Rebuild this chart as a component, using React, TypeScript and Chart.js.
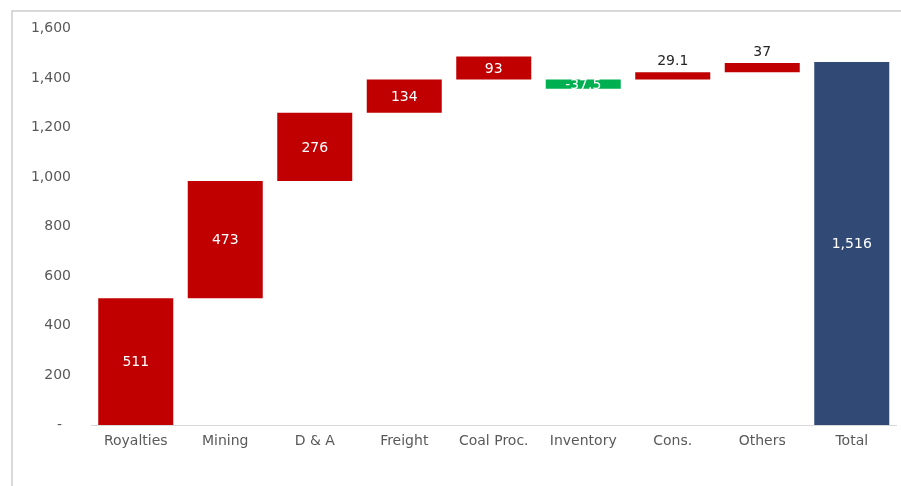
import React, { useEffect, useRef } from "react";
import { Chart, registerables } from "chart.js";

Chart.register(...registerables);

const categories = ["Royalties", "Mining", "D & A", "Freight", "Coal Proc.", "Inventory", "Cons.", "Others", "Total"];
const labelValues = [511, 473, 276, 134, 93, -37.5, 29.1, 37, 1516];
const barStarts = [0, 511, 984, 1260, 1394, 1394, 1394, 1423, 0];
const barEnds = [511, 984, 1260, 1394, 1487, 1356.5, 1423, 1460, 1464];
const yTicks = [0, 200, 400, 600, 800, 1000, 1200, 1400, 1600];
const yTickLabels = ["-  ", "200", "400", "600", "800", "1,000", "1,200", "1,400", "1,600"];

const RED = "#C00000";
const GREEN = "#00B050";
const NAVY = "#314A75";
const FONT = "'DejaVu Sans', sans-serif";

const fmt = (v: number) =>
  v.toLocaleString("en-US", { maximumFractionDigits: 1 });

const labelPlugin = {
  id: "wfLabels",
  afterDatasetsDraw(chart: any) {
    const ctx = chart.ctx;
    const meta = chart.getDatasetMeta(0);
    ctx.save();
    ctx.font = `14px ${FONT}`;
    ctx.textAlign = "center";
    ctx.textBaseline = "middle";
    meta.data.forEach((el: any, i: number) => {
      const v = labelValues[i];
      const top = Math.min(el.y, el.base);
      const bottom = Math.max(el.y, el.base);
      const txt = fmt(v);
      if (v > 0 && v < 50) {
        ctx.fillStyle = "#262626";
        ctx.fillText(txt, el.x, top - 11);
      } else {
        ctx.fillStyle = "#FFFFFF";
        ctx.fillText(txt, el.x, (top + bottom) / 2 + 1);
      }
    });
    ctx.restore();
  },
};

export default function App() {
  const ref = useRef<HTMLCanvasElement | null>(null);
  useEffect(() => {
    if (!ref.current) return;
    const colors = labelValues.map((v, i) =>
      i === categories.length - 1 ? NAVY : v < 0 ? GREEN : RED
    );
    const chart = new Chart(ref.current, {
      type: "bar",
      data: {
        labels: categories,
        datasets: [
          {
            data: barStarts.map((s, i) => [s, barEnds[i]]) as any,
            backgroundColor: colors,
            borderWidth: 0,
            categoryPercentage: 1,
            barPercentage: 0.838,
          },
        ],
      },
      options: {
        animation: false,
        responsive: false,
        maintainAspectRatio: false,
        layout: { padding: { left: 0, right: 4.5, top: 25, bottom: 0 } },
        plugins: {
          legend: { display: false },
          tooltip: { enabled: false },
        },
        scales: {
          x: {
            grid: { display: false, drawTicks: false },
            border: { display: true, color: "#D9D9D9", width: 1 },
            ticks: {
              color: "#595959",
              font: { family: FONT, size: 14 },
              padding: 8,
              maxRotation: 0,
              autoSkip: false,
            },
            afterFit: (s: any) => {
              s.height = 61;
            },
          },
          y: {
            min: 0,
            max: 1600,
            afterBuildTicks: (s: any) => {
              s.ticks = yTicks.map((v) => ({ value: v }));
            },
            grid: { display: false, drawTicks: false },
            border: { display: false },
            ticks: {
              color: "#595959",
              font: { family: FONT, size: 14 },
              padding: 20,
              callback: (v: any) => {
                const idx = yTicks.indexOf(Number(v));
                return idx >= 0 ? yTickLabels[idx] : "";
              },
            },
            afterFit: (s: any) => {
              s.width = 91;
            },
          },
        },
      },
      plugins: [labelPlugin],
    });
    return () => chart.destroy();
  }, []);

  return (
    <div style={{ position: "fixed", left: 0, top: 0, width: 901, height: 486, background: "#fff", overflow: "hidden" }}>
      <div
        style={{
          position: "absolute",
          left: 11,
          top: 10,
          width: 940,
          height: 520,
          border: "2px solid #D9D9D9",
          boxSizing: "border-box",
        }}
      />
      <canvas ref={ref} width={901} height={486} style={{ position: "absolute", left: 0, top: 0, width: 901, height: 486 }} />
    </div>
  );
}
